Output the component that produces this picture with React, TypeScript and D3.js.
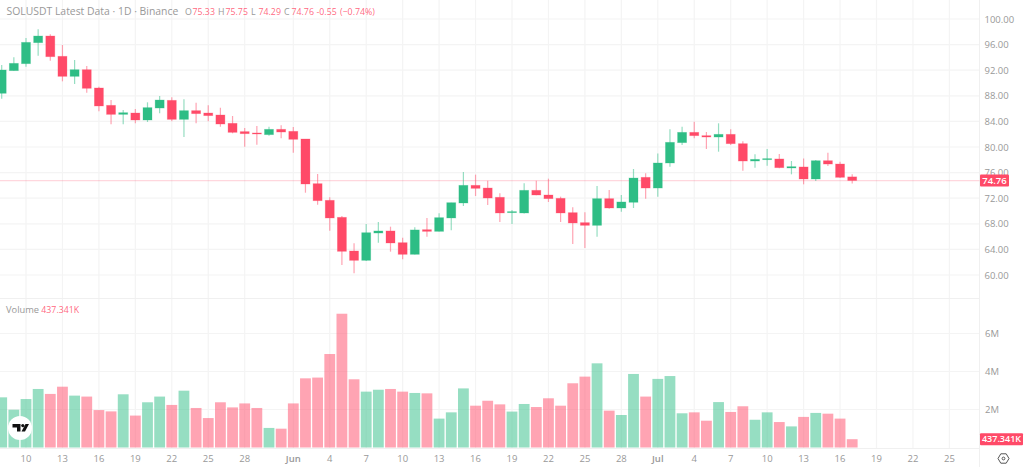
//@ts-nocheck
import { useEffect, useRef } from "react";
import * as d3 from "d3";

const width = 1024;
const height = 467;

// daily bars, first one is 8 May, last one is 17 Jul
const opens = [88.39,91.93,93.02,96.30,97.34,94.17,91.04,92.08,89.22,86.51,85.10,85.31,84.22,86.09,87.29,84.32,85.68,85.31,85.00,83.70,82.40,82.19,81.93,82.76,82.45,81.25,74.27,71.67,69.01,63.75,62.29,66.56,66.88,65.05,63.23,67.08,66.82,68.91,71.25,74.01,73.59,72.14,69.74,69.69,73.23,72.50,71.98,69.74,68.18,67.76,71.93,70.47,71.36,75.26,73.59,77.50,80.68,82.29,81.77,81.56,81.98,80.52,77.81,78.02,78.13,76.72,76.88,75.00,77.86,77.34,75.33];
const highs = [92.81,94.01,97.03,98.39,97.60,95.94,93.59,92.66,89.43,87.34,85.78,85.94,86.98,87.97,87.76,87.45,86.93,86.51,86.15,84.84,82.97,83.28,83.18,83.39,83.13,81.25,75.78,72.14,69.22,64.95,67.97,68.28,67.55,65.83,67.45,68.91,69.64,71.30,76.09,75.68,74.74,72.76,70.16,74.32,74.74,75.05,72.24,70.57,69.79,73.91,73.28,72.50,76.56,75.89,79.00,82.76,83.18,83.96,82.34,83.70,82.76,80.89,78.85,79.69,78.90,77.81,78.20,77.97,79.11,77.70,75.75];
const lows = [87.55,91.90,92.55,94.27,93.49,90.26,89.84,88.49,85.57,83.54,83.54,83.70,83.91,85.26,84.01,81.56,83.70,84.01,83.18,82.14,80.05,80.36,81.77,81.35,79.11,72.86,70.99,66.93,61.56,60.26,62.20,65.05,63.65,62.46,63.20,65.99,66.80,67.00,70.78,72.34,70.94,68.28,67.97,69.60,72.45,71.41,68.28,64.84,64.22,65.99,70.36,69.89,70.47,71.93,72.24,76.93,80.31,81.35,79.69,79.27,80.31,76.30,76.77,77.08,76.67,75.73,74.17,74.69,77.03,75.16,74.29];
const closes = [92.03,93.07,96.35,97.34,94.11,91.04,92.08,89.17,86.41,85.10,85.36,84.22,86.15,87.34,84.32,85.68,85.21,84.90,83.59,82.29,82.08,82.08,82.76,82.34,81.20,74.22,71.61,68.91,63.70,62.29,66.61,66.88,65.00,63.23,67.04,66.82,68.96,71.30,74.01,73.54,72.03,69.69,69.90,73.23,72.50,71.93,69.69,68.13,67.76,71.93,70.47,71.41,75.15,73.59,77.50,80.73,82.29,81.77,81.56,81.98,80.52,77.81,78.07,78.18,76.77,76.93,75.00,77.86,77.34,75.26,74.76];
// millions
const volumes = [2.64,1.99,2.55,3.08,2.82,3.20,2.73,2.68,1.97,1.90,2.80,1.68,2.38,2.68,2.24,2.99,2.08,1.55,2.38,2.11,2.32,2.08,1.03,0.99,2.32,3.64,3.68,4.92,7.04,3.59,2.94,3.04,3.08,2.94,2.87,2.85,1.52,1.85,3.11,2.20,2.46,2.27,1.89,2.29,2.13,2.59,2.20,3.38,3.73,4.43,1.94,1.71,3.87,2.68,3.61,3.76,1.80,1.85,1.41,2.39,1.87,2.17,1.46,1.85,1.34,1.11,1.61,1.82,1.78,1.52,0.437341];

const dayTicks = [2,5,8,11,14,17,20,24,27,30,33,36,39,42,45,48,51,54,57,60,63,66,69,72,75,78];
const dayLabels = ["10","13","16","19","22","25","28","Jun","4","7","10","13","16","19","22","25","28","Jul","4","7","10","13","16","19","22","25"];
const priceTicks = [100,96,92,88,84,80,76,72,68,64,60];
const volumeTicks = [2,4,6];

const lastPrice = 74.76;
const lastVolume = 0.437341;

const UP = "#2ebd85";
const DOWN = "#ff4a68";
const GRID = "#f4f4f4";
const TICK = "#999999";
const FONT = "'Open Sans', sans-serif";

export default function App() {
  const ref = useRef<SVGSVGElement>(null);

  useEffect(() => {
    document.body.style.margin = "0";
    const svg = d3.select(ref.current);
    svg.selectAll("*").remove();

    const axisX = 979.5;
    const x = d3.scaleLinear().domain([0, 70]).range([1.7, 852.2]);
    const y = d3.scaleLinear().domain([60, 100]).range([275, 19]);
    const yVol = d3.scaleLinear().domain([0, 6]).range([447.5, 333.5]);

    svg.append("rect").attr("width", width).attr("height", height).attr("fill", "#fff");

    const grid = svg.append("g").attr("stroke", GRID).attr("stroke-width", 1.2);
    dayTicks.forEach((d) => {
      grid.append("line").attr("x1", x(d)).attr("x2", x(d)).attr("y1", 0).attr("y2", 448);
    });
    priceTicks.forEach((p) => {
      grid.append("line").attr("x1", 0).attr("x2", axisX).attr("y1", y(p)).attr("y2", y(p));
    });
    volumeTicks.forEach((v) => {
      grid.append("line").attr("x1", 0).attr("x2", axisX).attr("y1", yVol(v)).attr("y2", yVol(v));
    });
    // pane separator, bottom edge and the axis edge
    const frame = svg.append("g").attr("stroke", "#f0f0f0").attr("stroke-width", 1);
    frame.append("line").attr("x1", 0).attr("x2", axisX).attr("y1", 298.5).attr("y2", 298.5);
    frame.append("line").attr("x1", 0).attr("x2", axisX).attr("y1", 448.5).attr("y2", 448.5);
    frame.append("line").attr("x1", axisX).attr("x2", axisX).attr("y1", 0).attr("y2", height);

    // last price line
    svg
      .append("line")
      .attr("x1", 0)
      .attr("x2", axisX)
      .attr("y1", y(lastPrice))
      .attr("y2", y(lastPrice))
      .attr("stroke", DOWN)
      .attr("stroke-opacity", 0.22)
      .attr("stroke-width", 1.2);

    // volume
    svg
      .append("g")
      .selectAll("rect")
      .data(volumes)
      .join("rect")
      .attr("x", (d, i) => x(i) - 5.4)
      .attr("width", 10.8)
      .attr("y", (d) => yVol(d))
      .attr("height", (d) => yVol(0) - yVol(d))
      .attr("fill", (d, i) => (closes[i] >= opens[i] ? UP : DOWN))
      .attr("fill-opacity", 0.5);

    // candles
    const candles = svg
      .append("g")
      .selectAll("g")
      .data(opens)
      .join("g")
      .attr("transform", (d, i) => `translate(${x(i)},0)`)
      .attr("color", (d, i) => (closes[i] >= opens[i] ? UP : DOWN));
    candles
      .append("line")
      .attr("y1", (d, i) => y(highs[i]))
      .attr("y2", (d, i) => y(lows[i]))
      .attr("stroke", "currentColor")
      .attr("stroke-opacity", 0.5)
      .attr("stroke-width", 1.2);
    candles
      .append("rect")
      .attr("x", -4.5)
      .attr("width", 9)
      .attr("y", (d, i) => y(Math.max(opens[i], closes[i])))
      .attr("height", (d, i) => Math.max(1, Math.abs(y(opens[i]) - y(closes[i]))))
      .attr("fill", "currentColor")
      .attr("stroke", "currentColor")
      .attr("stroke-opacity", 0.35)
      .attr("stroke-width", 0.8);

    // time axis
    svg
      .append("g")
      .selectAll("text")
      .data(dayTicks)
      .join("text")
      .attr("x", (d) => x(d))
      .attr("y", 461.5)
      .attr("text-anchor", "middle")
      .attr("font-family", FONT)
      .attr("font-size", 9.5)
      .attr("font-weight", (d, i) => (dayLabels[i] === "Jun" || dayLabels[i] === "Jul" ? 600 : 400))
      .attr("fill", TICK)
      .text((d, i) => dayLabels[i]);

    // price axis
    const rightLabels = svg.append("g").attr("font-family", FONT).attr("font-size", 9.5).attr("fill", TICK);
    priceTicks.forEach((p) => {
      rightLabels
        .append("text")
        .attr("x", 984.5)
        .attr("y", y(p) + 3.5)
        .text(d3.format(".2f")(p));
    });
    volumeTicks.forEach((v) => {
      rightLabels
        .append("text")
        .attr("x", 985)
        .attr("y", yVol(v) + 3.5)
        .text(`${v}M`);
    });

    // value tags on the axis
    svg
      .append("rect")
      .attr("x", 980)
      .attr("y", y(lastPrice) - 6)
      .attr("width", 29)
      .attr("height", 12)
      .attr("rx", 1)
      .attr("fill", DOWN);
    svg
      .append("text")
      .attr("x", 994.5)
      .attr("y", y(lastPrice) + 3.5)
      .attr("text-anchor", "middle")
      .attr("font-family", FONT)
      .attr("font-size", 9.5)
      .attr("font-weight", 600)
      .attr("fill", "#fff")
      .text(lastPrice.toFixed(2));
    svg
      .append("rect")
      .attr("x", 980)
      .attr("y", yVol(lastVolume) - 6)
      .attr("width", 43)
      .attr("height", 12)
      .attr("rx", 1)
      .attr("fill", DOWN);
    svg
      .append("text")
      .attr("x", 1001.5)
      .attr("y", yVol(lastVolume) + 3.3)
      .attr("text-anchor", "middle")
      .attr("font-family", FONT)
      .attr("font-size", 9)
      .attr("font-weight", 600)
      .attr("fill", "#fff")
      .text("437.341K");

    // settings icon
    const icon = svg
      .append("g")
      .attr("transform", "translate(1003.5,458.5)")
      .attr("fill", "none")
      .attr("stroke", "#555")
      .attr("stroke-width", 1);
    icon.append("path").attr("d", "M-5.5,0L-2.7,-4.7H2.7L5.5,0L2.7,4.7H-2.7Z");
    icon.append("circle").attr("r", 1.4);

    // legend on top
    const legend = svg.append("g").attr("font-family", FONT).attr("font-size", 8.8);
    legend
      .append("text")
      .attr("x", 6.5)
      .attr("y", 15)
      .attr("font-size", 10.4)
      .attr("fill", "#999")
      .text("SOLUSDT Latest Data · 1D · Binance");
    const ohlcKeys = ["O", "H", "L", "C"];
    const ohlcValues = [75.33, 75.75, 74.29, 74.76];
    const ohlcX = d3.scaleLinear().domain([0, 3]).range([185, 284]);
    ohlcKeys.forEach((k, i) => {
      legend.append("text").attr("x", ohlcX(i)).attr("y", 15).attr("fill", "#999").text(k);
      legend
        .append("text")
        .attr("x", ohlcX(i) + 7.5)
        .attr("y", 15)
        .attr("fill", DOWN)
        .attr("fill-opacity", 0.85)
        .text(ohlcValues[i].toFixed(2));
    });
    legend.append("text").attr("x", 316.5).attr("y", 15).attr("fill", DOWN).attr("fill-opacity", 0.85).text("-0.55");
    legend.append("text").attr("x", 340).attr("y", 15).attr("fill", DOWN).attr("fill-opacity", 0.85).text("(−0.74%)");

    legend.append("text").attr("x", 6).attr("y", 313).attr("font-size", 9.3).attr("fill", "#999").text("Volume");
    legend.append("text").attr("x", 41.3).attr("y", 313).attr("fill", DOWN).attr("fill-opacity", 0.85).text("437.341K");

    // logo
    const logo = svg.append("g").attr("transform", "translate(20,428)");
    logo.append("circle").attr("r", 12).attr("fill", "#fff");
    logo.append("path").attr("fill", "#111").attr("d", "M-7.5,-4H0.5V3.5H-3V-0.5H-7.5Z");
    logo.append("circle").attr("cx", 2.8).attr("cy", -2.4).attr("r", 1.6).attr("fill", "#111");
    logo.append("path").attr("fill", "#111").attr("d", "M5.5,-4H9L5,3.5H1.5Z");
  }, []);

  return <svg ref={ref} width={width} height={height} style={{ display: "block" }} />;
}
